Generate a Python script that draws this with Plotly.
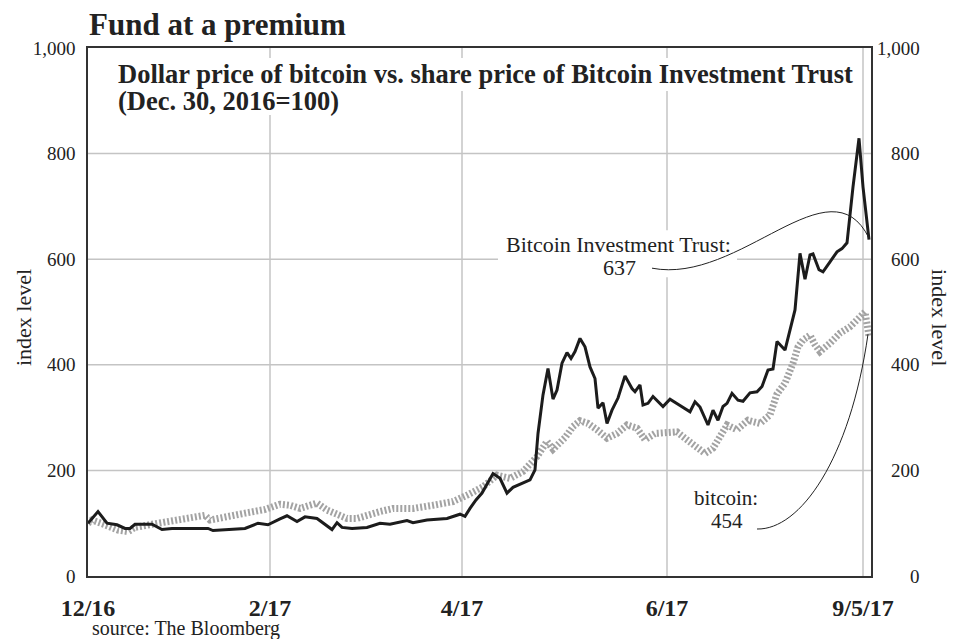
import plotly.graph_objects as go

# ---- data (x = chart time index, y = index level, Dec. 30, 2016 = 100) ----
trust_x = [0, 2, 3.8, 5.8, 7.4, 8.4, 9.4, 12.8, 14.8, 16.8, 21.4, 24, 25, 27.4, 31.4, 34, 36,
           38.4, 39.8, 41.8, 43.4, 45.8, 48.8, 49.8, 50.8, 52.8, 55.8, 58.4, 60.4, 63.8, 65,
           67.8, 71.8, 74.4, 75.4, 76.4, 77.6, 78.8, 80, 81, 82.4, 83.8, 85, 87, 88.4, 89.4,
           90, 91, 92, 93, 93.8, 94.8, 95.8, 96.6, 97.4, 98.4, 99.4, 100.4, 101.4, 102, 103,
           103.8, 104.8, 106, 107.4, 108.8, 109.4, 110.4, 111, 112, 113, 115, 116.4, 118.4,
           120.4, 121.4, 122.4, 124, 125, 126, 127, 127.8, 128.8, 130, 131, 132.4, 133.8,
           134.8, 136, 137, 137.8, 139.4, 140.4, 141.4, 142.4, 143.4, 144.4, 145, 146.2, 147,
           148.4, 149.8, 150.8, 151.8, 153, 154.2, 155, 156.2]
trust_y = [100, 122, 100, 97, 90, 90, 98, 98, 88, 90, 90, 90, 86, 87, 90, 100, 97,
           108, 114, 103, 112, 109, 88, 101, 92, 90, 92, 100, 98, 105, 101,
           106, 109, 117, 113, 128, 144, 157, 176, 194, 185, 157, 168, 177, 182, 201,
           270, 343, 393, 335, 352, 403, 423, 412, 425, 450, 434, 396, 374, 318, 328,
           289, 314, 337, 379, 355, 349, 362, 324, 327, 340, 321, 335, 323,
           311, 330, 320, 286, 314, 295, 321, 327, 346, 333, 331, 347, 349,
           359, 390, 392, 444, 428, 466, 504, 611, 562, 608, 610, 580, 576,
           595, 614, 620, 631, 737, 829, 737, 637]

btc_x = [0, 0.8, 3.4, 6, 8, 9.4, 12.8, 15.4, 19.4, 23.4, 24.4, 27.4, 31.4, 35.4, 38.4, 40.4,
         42.4, 44.4, 45.8, 47.8, 49.8, 51.8, 53.8, 55.8, 58.4, 61, 65, 69, 73, 75.8, 79,
         81.8, 84.4, 87, 89.8, 91.8, 93, 95.4, 97, 98.4, 100, 101.8, 103.8, 105.8, 107.8,
         109.8, 111.4, 113.4, 115.8, 117.8, 119.8, 121.8, 123.4, 125, 126.4, 127.8, 129.8,
         132, 134.4, 136.4, 137.8, 139.4, 141, 142, 143, 144.4, 145.4, 146.4, 148.4, 150.4,
         152.4, 154.4, 155.4, 156.2]
btc_y = [100, 106, 97, 87, 84, 92, 98, 103, 109, 115, 106, 113, 119, 126, 136, 134,
         128, 134, 138, 125, 116, 109, 109, 116, 122, 128, 128, 134, 141, 153, 169,
         191, 185, 198, 226, 255, 240, 262, 283, 294, 289, 277, 261, 270, 286,
         280, 258, 270, 270, 273, 258, 245, 232, 242, 267, 286, 277,
         295, 289, 305, 345, 365, 403, 434, 447, 456, 438, 425, 441, 460,
         472, 491, 500, 454]

tick_vals = [0, 36.4, 74.8, 115.8, 155]
tick_text = ["12/16", "2/17", "4/17", "6/17", "9/5/17"]
y_ticks = [0, 200, 400, 600, 800, 1000]
y_text = ["0", "200", "400", "600", "800", "1,000"]

SERIF = "Liberation Serif, Times New Roman, serif"
INK = "#222"
GRID = "#c4c4c4"
x_range = [0, 156.6]
y_range = [0, 1000]

fig = go.Figure()
fig.add_trace(go.Scatter(x=btc_x, y=btc_y, mode="lines", name="bitcoin",
                         line=dict(color="#a3a3a3", width=7, dash="2px,2px"),
                         hoverinfo="skip"))
fig.add_trace(go.Scatter(x=trust_x, y=trust_y, mode="lines", name="Bitcoin Investment Trust",
                         line=dict(color="#1c1c1c", width=3), hoverinfo="skip"))

shapes = []
# gridlines drawn as shapes under the traces
for v in y_ticks[1:-1]:
    shapes.append(dict(type="line", xref="x domain", yref="y", x0=0, x1=1, y0=v, y1=v,
                       line=dict(color=GRID, width=1.5), layer="below"))
for t in tick_vals[1:]:
    shapes.append(dict(type="line", xref="x", yref="y domain", x0=t, x1=t, y0=0, y1=1,
                       line=dict(color=GRID, width=1.5), layer="below"))


def white_patch(x0, x1, y0, y1):
    return dict(type="rect", xref="x domain", yref="y domain", x0=x0, x1=x1, y0=y0, y1=y1,
                fillcolor="white", line=dict(width=0), layer="below")


# white patches behind the subtitle lines and the trust label (hide gridlines there)
shapes.append(white_patch(0.0307, 0.9885, 0.9186, 0.981))
shapes.append(white_patch(0.0307, 0.337, 0.873, 0.9186))
shapes.append(white_patch(0.5236, 0.8289, 0.566, 0.655))
# leader curves (from label to line end)
bx, by = trust_x[-1], trust_y[-1]
cx, cy = btc_x[-1], btc_y[-1]
shapes.append(dict(type="path", xref="x", yref="y", layer="above",
                   path=f"M 112.8,583 C 130.4,551 148.4,790 {bx},{by + 3}",
                   line=dict(color=INK, width=1)))
shapes.append(dict(type="path", xref="x", yref="y", layer="above",
                   path=f"M 133.8,89 C 142.4,87 152.4,220 {cx - 0.2},{cy + 4}",
                   line=dict(color=INK, width=1)))

# page body has an 8px margin: figure is sized/shifted so the plot area sits at 88..871 x 48..576
fig.update_layout(
    width=953, height=631,
    margin=dict(l=80, r=90, t=40, b=63),
    paper_bgcolor="white", plot_bgcolor="white",
    showlegend=False,
    font=dict(family=SERIF, color=INK, size=18),
    shapes=shapes,
    xaxis=dict(range=x_range, tickvals=tick_vals, ticktext=tick_text,
               tickfont=dict(family=SERIF, size=24, color=INK, weight="bold"),
               showgrid=False,
               showline=True, linecolor="#333", linewidth=1.5, mirror=True,
               ticks="", zeroline=False, ticklabelstandoff=9),
    yaxis=dict(range=y_range, tickvals=y_ticks, ticktext=y_text,
               tickfont=dict(family=SERIF, size=19, color=INK),
               showgrid=False,
               showline=True, linecolor="#333", linewidth=1.5, mirror=True,
               ticks="", zeroline=False, ticklabelstandoff=7),
)


def txt(text, x, y, size, xanchor="center", bold=False, angle=0, yref="paper"):
    return dict(text=text, x=x, y=y, xref="paper", yref=yref, xanchor=xanchor,
                yanchor="middle", showarrow=False, textangle=angle,
                font=dict(family=SERIF, size=size, color=INK,
                          weight="bold" if bold else "normal"))


ann = [
    txt("Fund at a premium", -0.001, 1.0436, 31, xanchor="left", bold=True),
    txt("Dollar price of bitcoin vs. share price of Bitcoin Investment Trust",
        0.0358, 0.951, 26.5, xanchor="left", bold=True),
    txt("(Dec. 30, 2016=100)", 0.0358, 0.8996, 26.5, xanchor="left", bold=True),
    txt("index level", -0.083, 0.4886, 22, angle=-90),
    txt("index level", 1.088, 0.4886, 22, angle=90),
    txt("source: The Bloomberg", 0.0026, -0.0985, 20, xanchor="left"),
    txt("Bitcoin Investment Trust:", 0.678, 0.627, 22),
    txt(str(trust_y[-1]), 0.679, 0.585, 22),
    txt("bitcoin:", 0.815, 0.148, 21),
    txt(str(btc_y[-1]), 0.816, 0.105, 21),
]
# right-hand tick labels, right-aligned like the reference
for v, s in zip(y_ticks, y_text):
    ann.append(txt(s, 1.0651, v, 19, xanchor="right", yref="y"))
fig.update_layout(annotations=ann)

fig.write_html("out.html")
